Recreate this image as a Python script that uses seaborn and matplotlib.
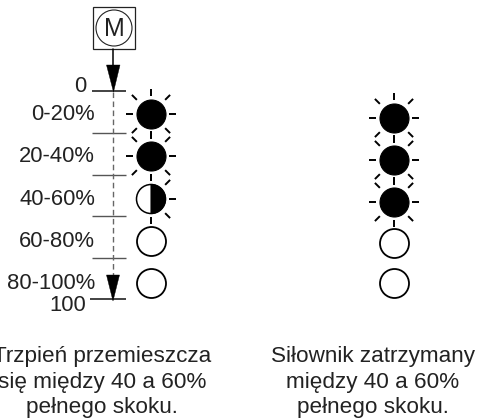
import matplotlib
matplotlib.use("Agg")
import matplotlib.pyplot as plt
from matplotlib.patches import Wedge, Circle, Rectangle, Polygon
import numpy as np
import pandas as pd
import seaborn as sns

# labels and LED states, top to bottom
row_labels = ["0-20%", "20-40%", "40-60%", "60-80%", "80-100%"]
left_states = ["full", "full", "half", "off", "off"]
right_states = ["full", "full", "full", "off", "off"]
scale_labels = ["0", "100"]
left_caption = "Trzpień przemieszcza\nsię między 40 a 60%\npełnego skoku."
right_caption = "Siłownik zatrzymany\nmiędzy 40 a 60%\npełnego skoku."

sns.set_style("white")
plt.rcParams["font.family"] = ["Liberation Sans", "DejaVu Sans"]

fig = plt.figure(figsize=(4.78, 4.19), dpi=100)
ax = fig.add_axes([0, 0, 1, 1])

# LED columns: pixel layout of the two rows
left_y = [114, 156, 199, 241, 283]
right_y = [118, 160, 202, 243, 283]
tick_y = [91.5, 133, 175, 216, 258, 299]
left_x = 151
right_x = 394
R = 14.5


def rays(x, y, angles):
    for a in angles:
        t = np.deg2rad(a)
        r1, r2 = (20, 27) if a % 90 else (18, 25)
        ax.plot([x + r1 * np.cos(t), x + r2 * np.cos(t)],
                [y - r1 * np.sin(t), y - r2 * np.sin(t)],
                color="black", lw=1.4, solid_capstyle="butt")


leds = pd.DataFrame({
    "x": [left_x] * 5 + [right_x] * 5,
    "y": left_y + right_y,
    "state": left_states + right_states,
})

full = leds[leds["state"] == "full"]
off = leds[leds["state"] == "off"]
half = leds[leds["state"] == "half"]
marker_size = (2 * R * 0.72) ** 2
sns.scatterplot(data=full, x="x", y="y", ax=ax, s=marker_size, color="black",
                edgecolor="black", linewidth=0.8, legend=False, zorder=3)
sns.scatterplot(data=off, x="x", y="y", ax=ax, s=marker_size, color="white",
                edgecolor="black", linewidth=1.3, legend=False, zorder=3)

for _, row in full.iterrows():
    rays(row["x"], row["y"], range(0, 360, 45))
for _, row in half.iterrows():
    ax.add_patch(Circle((row["x"], row["y"]), R, fc="white", ec="black", lw=1.1, zorder=3))
    # y axis is flipped, so the right half runs from -90 to 90 too
    ax.add_patch(Wedge((row["x"], row["y"]), R, -90, 90, fc="black", ec="black", lw=0.8, zorder=4))
    rays(row["x"], row["y"], [90, 45, 0, -45, -90])

# scale ticks and dashed travel line
for i, ty in enumerate(tick_y):
    end = i in (0, len(tick_y) - 1)
    x0 = 90 if i == len(tick_y) - 1 else 92
    ax.plot([x0, 126], [ty, ty], color="#222222" if end else "#555555",
            lw=1.2 if end else 1.0, solid_capstyle="butt")
ax.plot([113, 113], [92, 278], color="#666666", lw=1.0, ls=(0, (4, 2.5)))

# motor box and arrows
ax.add_patch(Rectangle((93, 7.5), 42, 42, fc="white", ec="#222222", lw=0.9))
ax.add_patch(Circle((114, 28), 18, fc="white", ec="#222222", lw=0.8))
ax.text(114, 28.5, "M", ha="center", va="center", fontsize=18, color="#222222")
ax.plot([113.5, 113.5], [49, 66], color="black", lw=1.1)
ax.add_patch(Polygon([[106.5, 65], [120, 65], [113.5, 92]], fc="black", ec="black", lw=0.3, zorder=4))
ax.add_patch(Polygon([[106.5, 275], [119.5, 275], [113, 301]], fc="black", ec="black", lw=0.3, zorder=4))

# row labels
for label, ly in zip(row_labels, left_y):
    ax.text(95, ly + 0.5, label, ha="right", va="center", fontsize=15.8, color="#222222")
ax.text(86, 86.5, scale_labels[0], ha="right", va="center", fontsize=15.8, color="#222222")
ax.text(86, 305, scale_labels[1], ha="right", va="center", fontsize=15.8, color="#222222")

# captions
ax.text(102, 382, left_caption, ha="center", va="center", fontsize=16.2,
        linespacing=1.27, color="#222222")
ax.text(373, 382, right_caption, ha="center", va="center", fontsize=16.2,
        linespacing=1.27, color="#222222")

ax.set_xlim(0, 478)
ax.set_ylim(419, 0)
ax.axis("off")
plt.savefig("out.png", dpi=100)
